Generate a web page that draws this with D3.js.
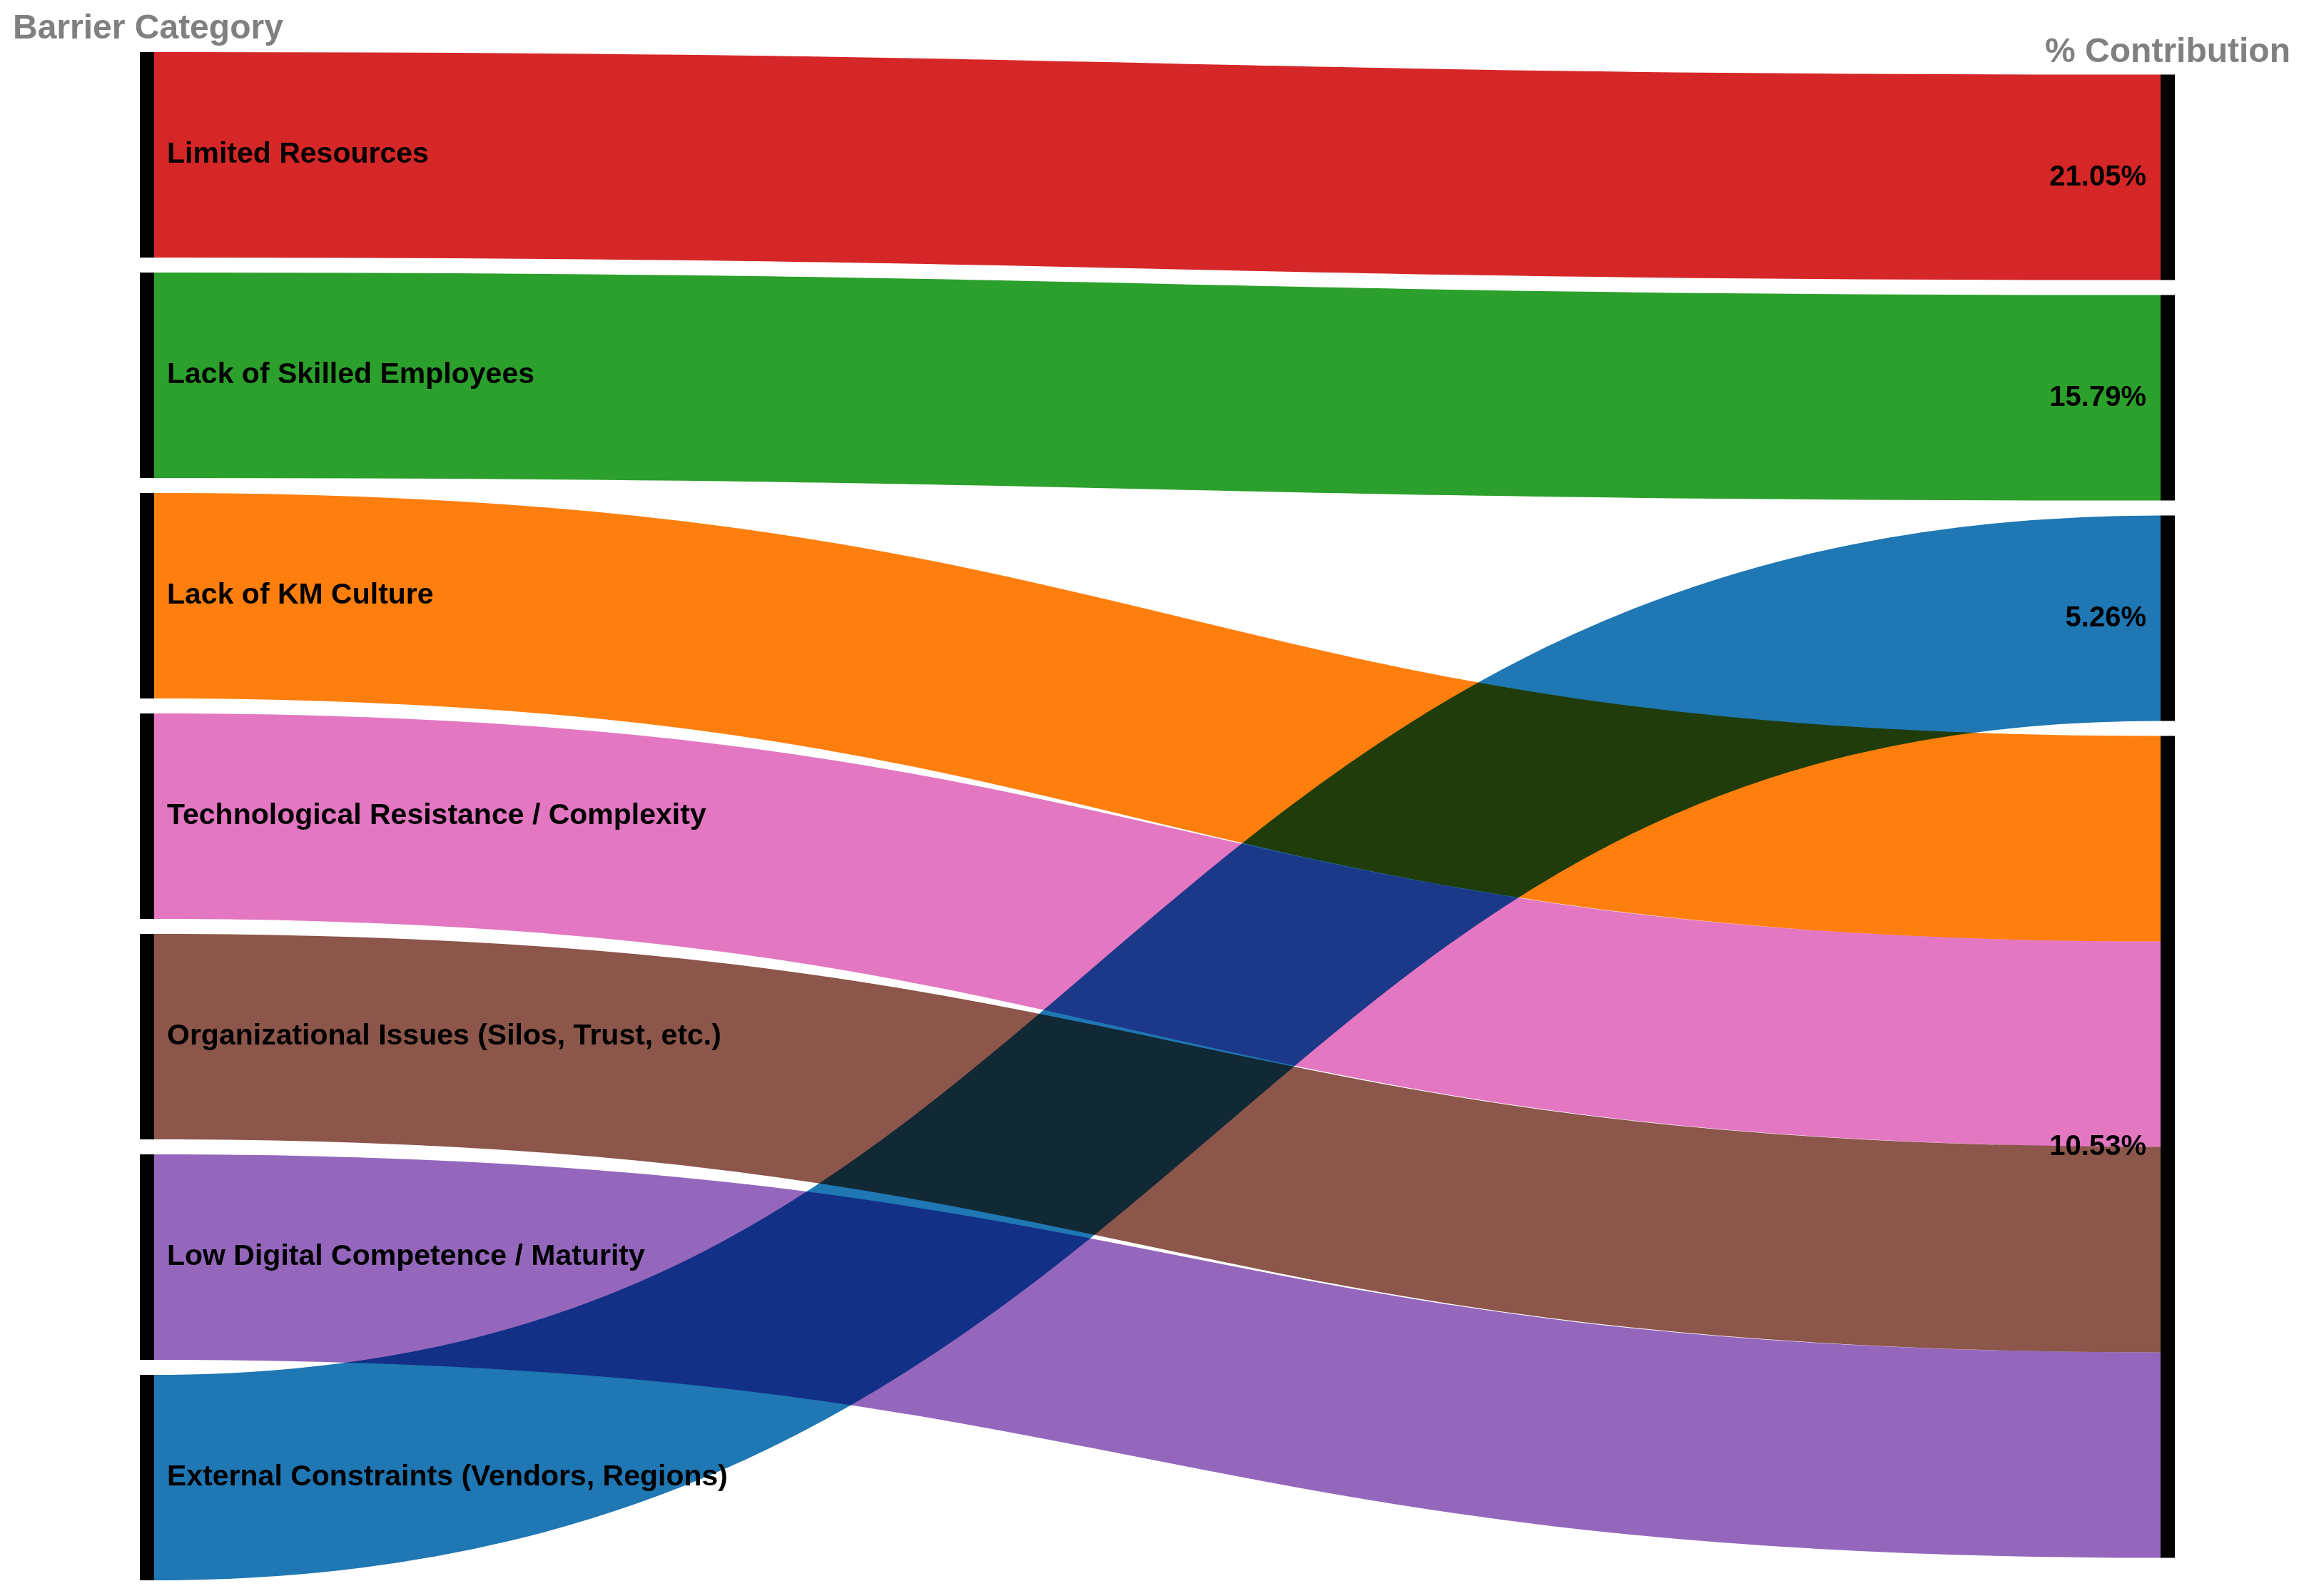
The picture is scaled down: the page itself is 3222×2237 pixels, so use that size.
<!DOCTYPE html>
<html>
<head>
<meta charset="utf-8">
<script src="https://cdn.jsdelivr.net/npm/d3@7"></script>
<style>
  html, body { margin: 0; padding: 0; background: #ffffff; }
  svg { display: block; }
  text { font-family: "Liberation Sans", Arial, Helvetica, sans-serif; font-weight: bold; }
</style>
</head>
<body>
<svg id="chart"></svg>
<script>
// ---- data ----
const sources = [
  "Limited Resources",
  "Lack of Skilled Employees",
  "Lack of KM Culture",
  "Technological Resistance / Complexity",
  "Organizational Issues (Silos, Trust, etc.)",
  "Low Digital Competence / Maturity",
  "External Constraints (Vendors, Regions)"
];
const targets = ["21.05%", "15.79%", "5.26%", "10.53%"];
const linkTargets = ["21.05%", "15.79%", "10.53%", "10.53%", "10.53%", "10.53%", "5.26%"];
const linkValues = [1, 1, 1, 1, 1, 1, 1];
const linkColors = ["#d62728", "#2ca02c", "#ff7f0e", "#e377c2", "#8c564b", "#9467bd", "#1f77b4"];
const leftTitle = "Barrier Category";
const rightTitle = "% Contribution";

// ---- layout ----
const W = 3222, H = 2237;
const yTop = 73, yBottom = 2215;
const nodeW = 20, pad = 21;
const xLeft = 196, xRight = 3028;

const svg = d3.select("#chart").attr("width", W).attr("height", H);

const leftTotal = d3.sum(linkValues);
const targetTotals = targets.map(t => d3.sum(linkValues.filter((v, i) => linkTargets[i] === t)));
const ky = (yBottom - yTop - pad * (sources.length - 1)) / leftTotal;
const y = d3.scaleLinear().domain([0, leftTotal]).range([0, leftTotal * ky]);

// left nodes
let cy = yTop;
const leftNodes = sources.map((name, i) => {
  const h = y(linkValues[i]);
  const n = { name, y0: cy, y1: cy + h };
  cy += h + pad;
  return n;
});
// right nodes (centered in column)
const rightHeight = d3.sum(targetTotals, v => y(v)) + pad * (targets.length - 1);
cy = yTop + (yBottom - yTop - rightHeight) / 2;
const rightNodes = targets.map((name, j) => {
  const h = y(targetTotals[j]);
  const n = { name, y0: cy, y1: cy + h, fill: cy };
  cy += h + pad;
  return n;
});

// links (d3-sankey style: stroked centre lines)
const links = sources.map((s, i) => {
  const tn = rightNodes[targets.indexOf(linkTargets[i])];
  const w = y(linkValues[i]);
  const l = { ys: leftNodes[i].y0 + w / 2, yt: tn.fill + w / 2, width: w, color: linkColors[i] };
  tn.fill += w;
  return l;
});

const linkGen = d3.linkHorizontal()
  .source(d => [xLeft + nodeW, d.ys])
  .target(d => [xRight, d.yt]);

svg.append("g").attr("fill", "none")
  .selectAll("path").data(links).join("path")
  .attr("d", linkGen)
  .attr("stroke", d => d.color)
  .attr("stroke-width", d => d.width)
  .style("mix-blend-mode", "multiply");

// nodes
svg.append("g").selectAll("rect").data(leftNodes).join("rect")
  .attr("x", xLeft).attr("y", d => d.y0)
  .attr("width", nodeW).attr("height", d => d.y1 - d.y0)
  .attr("fill", "#000");
svg.append("g").selectAll("rect").data(rightNodes).join("rect")
  .attr("x", xRight).attr("y", d => d.y0)
  .attr("width", nodeW).attr("height", d => d.y1 - d.y0)
  .attr("fill", "#000");

// labels
svg.append("g").selectAll("text").data(leftNodes).join("text")
  .attr("x", xLeft + nodeW + 18)
  .attr("y", d => (d.y0 + d.y1) / 2)
  .attr("dy", "0.28em")
  .attr("font-size", 41)
  .attr("fill", "#000")
  .text(d => d.name);

svg.append("g").selectAll("text").data(rightNodes).join("text")
  .attr("x", xRight - 20)
  .attr("y", d => (d.y0 + d.y1) / 2)
  .attr("dy", "0.28em")
  .attr("text-anchor", "end")
  .attr("font-size", 40)
  .attr("fill", "#000")
  .text(d => d.name);

// column titles
svg.append("text").attr("x", 18).attr("y", 54)
  .attr("font-size", 48).attr("fill", "#808080").text(leftTitle);
svg.append("text").attr("x", 3210).attr("y", 87).attr("text-anchor", "end")
  .attr("font-size", 48).attr("fill", "#808080").text(rightTitle);
</script>
</body>
</html>
